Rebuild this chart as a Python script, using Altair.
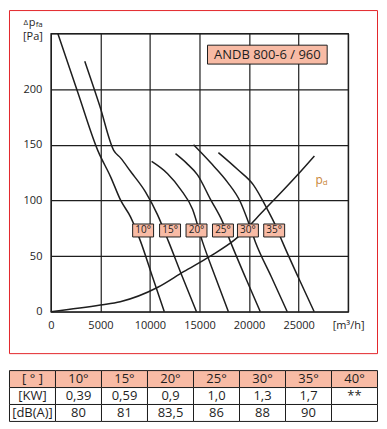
import altair as alt
import pandas as pd

# ---------------- data ----------------
angles = ["10°", "15°", "20°", "25°", "30°", "35°"]

q_10 = [700, 2720, 4730, 6040, 7050, 8050, 9060, 10270, 11450]
p_10 = [250, 197, 145, 121, 100, 85, 63, 31, 0]
q_15 = [3420, 4930, 6340, 7050, 8050, 9560, 10770, 11880, 13290, 14700]
p_15 = [225, 185, 145, 138, 126, 107.5, 87, 63, 31, 0]
q_20 = [10170, 11780, 13090, 14300, 15300, 16610, 17920]
p_20 = [135, 124, 110, 92, 63, 31, 0]
q_25 = [12580, 13690, 14800, 16110, 17320, 18120, 19630, 21140]
p_25 = [142, 133.5, 123, 101, 81, 63, 31, 0]
q_30 = [14400, 16110, 17820, 19130, 19930, 20640, 22250, 23860]
p_30 = [150, 134, 116.5, 98.6, 80.7, 62.7, 31.4, 0]
q_35 = [16910, 18830, 20440, 21850, 22750, 23360, 24970, 26580]
p_35 = [143, 128, 114, 92, 76, 63, 31, 0]
q_pd = [0, 5000, 7000, 10800, 13400, 16100, 18600, 21600, 25000, 26600]
p_pd = [0, 6, 9, 22, 36, 50, 65, 92, 124, 140]

label_q = [9310, 12030, 14700, 17370, 19890, 22540]
label_p = [73, 73, 73, 73, 73, 73]

model_name = "ANDB 800-6 / 960"
model_q = [21850]
model_p = [231]

x_ticks = [0, 5000, 10000, 15000, 20000, 25000, 30000]
y_ticks = [0, 50, 100, 150, 200, 250]

table_head = ["[ ° ]", "10°", "15°", "20°", "25°", "30°", "35°", "40°"]
table_kw = ["[KW]", "0,39", "0,59", "0,9", "1,0", "1,3", "1,7", "**"]
table_db = ["[dB(A)]", "80", "81", "83,5", "86", "88", "90", ""]

# ---------------- styling ----------------
INK = "#1e1e1e"
SALMON = "#F8BBA5"
RED = "#E3262B"
FONT = "Open Sans"

# ---------------- tables for the library ----------------
series = [(angles[0], q_10, p_10), (angles[1], q_15, p_15), (angles[2], q_20, p_20),
          (angles[3], q_25, p_25), (angles[4], q_30, p_30), (angles[5], q_35, p_35),
          ("pd", q_pd, p_pd)]
rows = []
for name, qs, ps in series:
    for i, (q, p) in enumerate(zip(qs, ps)):
        rows.append({"s": name, "q": q, "p": p, "i": i})
curves = pd.DataFrame(rows)

labels_df = pd.DataFrame({"t": angles, "q": label_q, "p": label_p})
model_df = pd.DataFrame({"t": [model_name], "q": model_q, "p": model_p})

xs = alt.Scale(domain=[0, 30000], nice=False, zero=False)
ys = alt.Scale(domain=[0, 250], nice=False, zero=False)

X = alt.X("q:Q", scale=xs, title="",
          axis=alt.Axis(values=x_ticks, format="d", grid=True, gridColor=INK, gridWidth=1.2,
                        domain=False, ticks=False, tickSize=0, labelPadding=8, labelFlush=False,
                        labelFontSize=11, labelColor=INK, labelFont=FONT,
                        labelExpr="datum.value == 30000 ? '[m³/h]' : datum.label"))
Y = alt.Y("p:Q", scale=ys, title="",
          axis=alt.Axis(values=y_ticks, grid=True, gridColor=INK, gridWidth=1.2,
                        domain=False, ticks=False, tickSize=0, labelPadding=9,
                        labelFontSize=11, labelColor=INK, labelFont=FONT,
                        labelExpr="datum.value == 250 ? '' : datum.label"))

frame = alt.Chart(alt.Data(values=[{"a": 1}])).mark_rect(
    fill="transparent", stroke=RED, strokeWidth=1
).encode(x=alt.value(-41.5), x2=alt.value(327.5), y=alt.value(-23), y2=alt.value(321))

lines = alt.Chart(curves).mark_line(interpolate="monotone", strokeWidth=1.5, color=INK).encode(
    x=X, y=Y, detail="s:N", order="i:Q")

box_small = "M-1,-0.62L1,-0.62L1,0.62L-1,0.62Z"
box_big = "M-1,-0.158L1,-0.158L1,0.158L-1,0.158Z"

angle_boxes = alt.Chart(labels_df).mark_point(
    shape=box_small, size=441, filled=True, fill=SALMON, stroke=INK, strokeWidth=1, opacity=1
).encode(x="q:Q", y="p:Q")
angle_text = alt.Chart(labels_df).mark_text(font=FONT, fontSize=10, color=INK).encode(
    x="q:Q", y="p:Q", text="t:N")

model_box = alt.Chart(model_df).mark_point(
    shape=box_big, size=14400, filled=True, fill=SALMON, stroke=INK, strokeWidth=1, opacity=1
).encode(x="q:Q", y="p:Q")
model_text = alt.Chart(model_df).mark_text(font=FONT, fontSize=13, color=INK).encode(
    x="q:Q", y="p:Q", text="t:N")

annot = pd.DataFrame({
    "t": ["p", "d", "Δ", "p", "fa", "[Pa]"],
    "q": [27080, 27700, -2520, -1900, -1180, -1810],
    "p": [118.5, 115.5, 259.5, 259, 257.5, 246.5],
    "fs": [12, 8, 8, 11, 8, 11],
    "c": ["pd", "pd", "ax", "ax", "ax", "ax"],
})
annot_text = alt.Chart(annot).mark_text(font=FONT).encode(
    x="q:Q", y="p:Q", text="t:N",
    size=alt.Size("fs:Q", scale=None, legend=None),
    color=alt.Color("c:N", scale=alt.Scale(domain=["pd", "ax"], range=["#C9873A", INK]), legend=None))

main = alt.layer(frame, lines, angle_boxes, angle_text, model_box, model_text, annot_text).properties(
    width=298, height=279, view=alt.ViewBackground(stroke=INK, strokeWidth=1.3))

# ---------------- table ----------------
trows = []
for r, vals in enumerate([table_head, table_kw, table_db]):
    for c, v in enumerate(vals):
        trows.append({"r": r, "c": c, "t": v, "kind": "head" if r == 0 else "body"})
tdf = pd.DataFrame(trows)

TX = alt.X("c:O", scale=alt.Scale(paddingInner=0, paddingOuter=0, range=[-41.5, 327.5]), axis=None)
TY = alt.Y("r:O", scale=alt.Scale(paddingInner=0, paddingOuter=0), axis=None)
cells = alt.Chart(tdf).mark_rect(stroke=INK, strokeWidth=1).encode(
    x=TX, y=TY,
    fill=alt.Fill("kind:N", scale=alt.Scale(domain=["head", "body"], range=[SALMON, "#ffffff"]), legend=None))
ctext = alt.Chart(tdf).mark_text(font=FONT, fontSize=13, color=INK).encode(x=TX, y=TY, text="t:N")
table = alt.layer(cells, ctext).properties(width=298, height=51)

chart = alt.vconcat(main, table, spacing=14).properties(padding=0).configure_view(
    stroke="transparent")

chart.save("out.html", embed_options={"renderer": "svg", "actions": False})
